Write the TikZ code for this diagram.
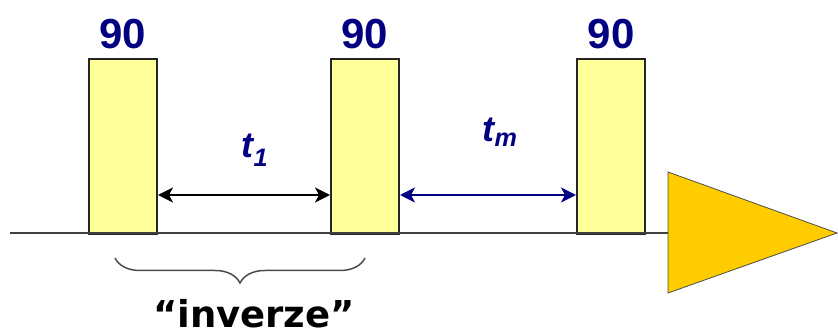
\documentclass[tikz,border=0pt]{standalone}
\usepackage{fontspec}
\setmainfont{Liberation Sans}
\newfontfamily\widesans{DejaVu Sans}
\usetikzlibrary{arrows.meta,decorations.pathreplacing}
\definecolor{pulsefill}{HTML}{FFFF99}
\definecolor{navy}{HTML}{000080}
\definecolor{echo}{HTML}{FFCC00}
\tikzset{
  pulse/.style={draw=black!85, line width=2pt, fill=pulsefill, inner sep=0pt,
    minimum width=68pt, minimum height=175pt, anchor=north west},
  angle/.style={text=navy, font=\fontsize{42}{42}\selectfont\bfseries, anchor=base, inner sep=0pt},
  delay/.style={text=navy, font=\fontsize{36}{36}\selectfont\bfseries\itshape, anchor=base, inner sep=0pt},
  tipshape/.style={Stealth[length=15pt,width=15pt,inset=4pt]},
  span/.style={{Stealth[length=15pt,width=15pt,inset=4pt]}-{Stealth[length=15pt,width=15pt,inset=4pt]}, line width=2pt},
}
\begin{document}
\begin{tikzpicture}[x=1pt,y=-1pt]
\useasboundingbox (0,0) rectangle (838,336);
% three 90-degree pulses
\node[pulse] (p1) at (88,58) {};
\node[pulse] (p2) at (330,58) {};
\node[pulse] (p3) at (576,58) {};
\node[angle] (a1) at ([yshift=9pt]p1.north) {90};
\node[angle] (a2) at ([yshift=9pt]p2.north) {90};
\node[angle] (a3) at ([yshift=9pt]p3.north) {90};
% detected echo
\coordinate (tri) at (668,233);
\draw[fill=echo, draw=black!70, line width=0.8pt] (668,172) -- (837,233) -- (668,293) -- cycle;
% time axis
\coordinate (start) at (10,233);
\draw[line width=2pt, black!75] (start) -- (tri);
% delays
\coordinate (lvl) at (0,195);
\draw[span, black] (p1.east |- lvl) -- (p2.west |- lvl) coordinate[midway] (m1);
\draw[span, navy] (p2.east |- lvl) -- (p3.west |- lvl) coordinate[midway] (m2);
\node[delay] (t1) at ([xshift=11pt,yshift=37pt]m1) {t\textsubscript{1}};
\node[delay] (tm) at ([xshift=12pt,yshift=53pt]m2) {t\textsubscript{m}};
% inversion bracket
\coordinate (b1) at (115,258);
\coordinate (b2) at (365,258);
\draw[black!70, line width=1.5pt, decorate, decoration={brace, mirror, amplitude=25pt}] (b1) -- (b2);
\node[font=\widesans\fontsize{37}{37}\selectfont\bfseries, anchor=base, inner sep=0pt] (inv) at (254,328) {“inverze”};
\end{tikzpicture}
\end{document}
